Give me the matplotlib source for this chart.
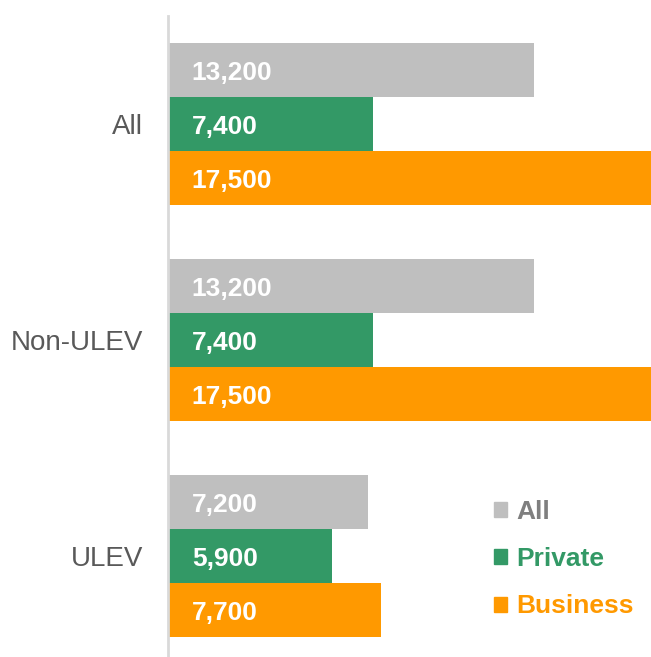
import numpy as np
import matplotlib.pyplot as plt
from matplotlib.patches import Patch

# Datos: kilometraje medio anual por tipo de vehículo y uso
categorias = ["All", "Non-ULEV", "ULEV"]
series = ["All", "Private", "Business"]
valores_all = [13200, 13200, 7200]
valores_private = [7400, 7400, 5900]
valores_business = [17500, 17500, 7700]

colores_barra = ["#bfbfbf", "#339966", "#ff9900"]
colores_texto = ["#7f7f7f", "#339966", "#ff9900"]

plt.rcParams['font.family'] = ['Liberation Sans', 'DejaVu Sans']

fig = plt.figure(figsize=(6.51, 6.57), dpi=100)
ax = fig.add_axes([168/651, -7/657, 483/651, 648/657])

datos = [valores_all, valores_private, valores_business]
g = np.arange(len(categorias))
for k, vals in enumerate(datos):
    y = 4*g + k + 1
    ax.barh(y, vals, height=1.0, color=colores_barra[k])
    for yi, v in zip(y, vals):
        ax.text(860, yi + 0.19, f"{v:,}", color="white", fontsize=19,
                fontweight="bold", va="baseline", ha="left")

ax.set_xlim(0, 17420)
ax.set_ylim(12, 0)
ax.set_yticks(4*g + 2)
ax.set_yticklabels(categorias, fontsize=20, color="#595959")
ax.tick_params(axis="y", length=0, pad=18)
ax.set_xticks([])
for s in ["top", "right", "bottom"]:
    ax.spines[s].set_visible(False)
ax.spines["left"].set_color("#d9d9d9")
ax.spines["left"].set_linewidth(2)

handles = [Patch(color=c) for c in colores_barra]
leg = ax.legend(handles, series, loc="upper left",
                bbox_to_anchor=(494/651, 1 - 500/657), bbox_transform=fig.transFigure,
                frameon=False, borderpad=0, borderaxespad=0,
                handlelength=0.5, handleheight=0.5,
                handletextpad=0.34, labelspacing=0.88,
                prop={"size": 19, "weight": "bold"})
for t, c in zip(leg.get_texts(), colores_texto):
    t.set_color(c)

fig.savefig("out.png", dpi=100)
